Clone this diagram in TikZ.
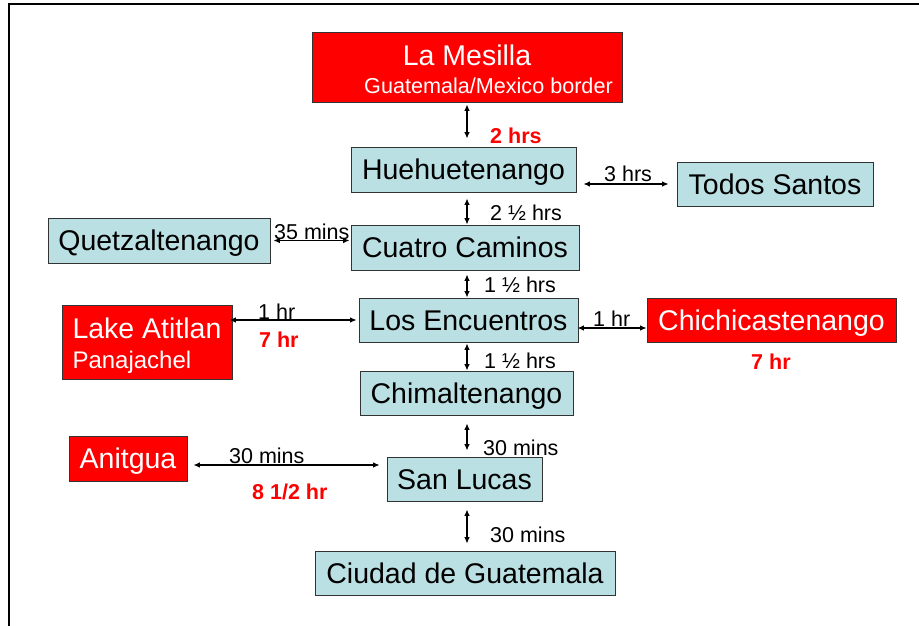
\documentclass[tikz,border=0pt]{standalone}
\usepackage{fontspec}
\setmainfont{Liberation Sans}
\usetikzlibrary{arrows.meta}

\definecolor{placeblue}{RGB}{187,224,227}
\newcommand{\placefont}{\fontsize{28.5pt}{30pt}\selectfont}
\newcommand{\timefont}{\fontsize{21.5pt}{23pt}\selectfont}

\tikzset{
  place/.style={draw=black!80, line width=0.9pt, fill=placeblue, inner sep=0pt,
    text height=21pt, text depth=1pt, font=\placefont},
  redplace/.style={place, fill=red, text=white},
  twoline/.style={text height=, text depth=},
  timelbl/.style={inner sep=0pt, anchor=base west, font=\timefont},
  redlbl/.style={timelbl, text=red, font=\timefont\bfseries},
  twoway/.style={{Latex[length=6.5pt,width=5.5pt]}-{Latex[length=6.5pt,width=5.5pt]}, line width=1.1pt},
}

\begin{document}
\begin{tikzpicture}[x=1pt, y=-1pt]
	\useasboundingbox (0,0) rectangle (919,626);
	\draw[line width=2pt] (9,626) -- (9,4.5) -- (919,4.5);
	\coordinate (spine) at (467,0);

	% places
	\node[redplace, twoline, minimum width=310pt, minimum height=70pt, align=center] (mesilla) at (467,67)
		{\rule{0pt}{24.8pt}La Mesilla\\[-2pt]\hspace*{43pt}{\fontsize{21.6pt}{23pt}\selectfont Guatemala/Mexico border}};
	\node[place, minimum width=225pt, minimum height=45pt] (huehue) at (463.5,169.5) {Huehuetenango};
	\node[place, minimum width=196pt, minimum height=44pt] (todos) at (775,184) {Todos Santos};
	\node[place, minimum width=222pt, minimum height=45pt] (quetz) at (159,240.5) {Quetzaltenango};
	\node[place, minimum width=228pt, minimum height=45pt] (cuatro) at (465,247.5) {Cuatro Caminos};
	\node[redplace, twoline, minimum width=170pt, minimum height=74pt, align=left] (lake) at (147,342)
		{\rule{0pt}{28.8pt}Lake Atitlan\\{\fontsize{24pt}{26pt}\selectfont Panajachel}};
	\node[place, minimum width=219pt, minimum height=44pt] (losenc) at (468.5,320) {Los Encuentros};
	\node[redplace, minimum width=249pt, minimum height=44pt] (chichi) at (771.5,320) {Chichicastenango};
	\node[place, minimum width=213pt, minimum height=44pt] (chimal) at (466.5,393) {Chimaltenango};
	\node[redplace, minimum width=118pt, minimum height=45pt] (anitgua) at (128,458.5) {Anitgua};
	\node[place, minimum width=155pt, minimum height=44pt] (sanlucas) at (464.5,479) {San Lucas};
	\node[place, minimum width=300pt, minimum height=44pt] (ciudad) at (465,573) {Ciudad de Guatemala};

	% roads
	\draw[twoway] ([yshift=-2pt]mesilla.south -| spine) -- ([yshift=8pt]huehue.north -| spine);
	\draw[twoway] ([yshift=-6pt]huehue.south -| spine) -- (cuatro.north -| spine);
	\draw[twoway] ([yshift=-4pt]cuatro.south -| spine) -- (losenc.north -| spine);
	\draw[twoway] ([yshift=-1pt]losenc.south -| spine) -- (chimal.north -| spine);
	\draw[twoway] ([yshift=-8pt]chimal.south -| spine) -- ([yshift=6pt]sanlucas.north -| spine);
	\draw[twoway] ([yshift=-8pt]sanlucas.south -| spine) -- ([yshift=7pt]ciudad.north -| spine);
	\draw[twoway] ([xshift=7pt]huehue.east |- todos.west) -- ([xshift=-8pt]todos.west);
	\draw[twoway] ([xshift=3pt]quetz.east) -- ([xshift=-1pt]cuatro.west |- quetz.east);
	\draw[twoway] ([xshift=-3pt]lake.east |- losenc.west) -- ([xshift=-2pt]losenc.west);
	\draw[twoway] ([xshift=-1pt,yshift=-8pt]losenc.east) -- ([yshift=-8pt]chichi.west);
	\draw[twoway] ([xshift=6pt,yshift=-6.5pt]anitgua.east) -- ([xshift=-7pt,yshift=14pt]sanlucas.west);

	% travel times
	\node[redlbl] (t-mesilla) at (490,143) {2 hrs};
	\node[timelbl] (t-todos) at (604,181) {3 hrs};
	\node[timelbl] (t-huehue) at (490,220) {2 ½ hrs};
	\node[timelbl] (t-quetz) at (274,239) {35 mins};
	\node[timelbl] (t-cuatro) at (484,292) {1 ½ hrs};
	\node[timelbl] (t-lake) at (258,319) {1 hr};
	\node[redlbl] (r-lake) at (259,347) {7 hr};
	\node[timelbl] (t-chichi) at (593,326) {1 hr};
	\node[timelbl] (t-losenc) at (484,368) {1 ½ hrs};
	\node[redlbl] (r-chichi) at (751,369) {7 hr};
	\node[timelbl] (t-anitgua) at (229,463) {30 mins};
	\node[redlbl] (r-anitgua) at (252,499) {8 1/2 hr};
	\node[timelbl] (t-chimal) at (483,455) {30 mins};
	\node[timelbl] (t-sanlucas) at (490,542) {30 mins};
\end{tikzpicture}
\end{document}
